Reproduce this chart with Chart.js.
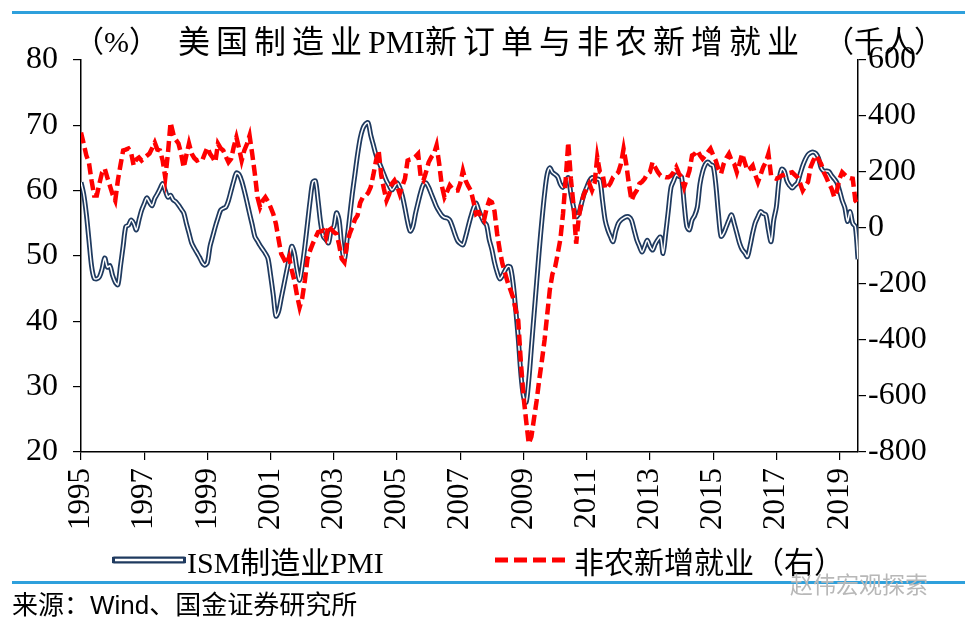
<!DOCTYPE html>
<html>
<head>
<meta charset="utf-8">
<script src="https://cdn.jsdelivr.net/npm/chart.js@4.4.0/dist/chart.umd.min.js"></script>
<style>
  body { margin: 0; width: 969px; height: 627px; background: #fff; position: relative; overflow: hidden; }
  #chart { position: absolute; left: 0; top: 0; }
  .rule { position: absolute; left: 12px; width: 953px; height: 3px; background: #2ea0dc; }
  .txt { position: absolute; white-space: nowrap; color: #000; line-height: 1;
         font-family: 'Liberation Serif', 'Noto Sans CJK SC', serif; }
  .tight { letter-spacing: 0; }
  #source { font-family: 'Liberation Sans', 'Noto Sans CJK SC', sans-serif; font-size: 26px; left: 12px; top: 592px; }
  #mark { font-family: 'Noto Sans CJK SC', sans-serif; font-size: 23px; color: #b8b8b8; left: 790px; top: 572px; }
</style>
</head>
<body>
<canvas id="chart" width="969" height="627"></canvas>
<div class="rule" style="top:11px"></div>
<div class="txt" style="left:74px; top:27px; font-size:30px">（%）</div>
<div class="txt" style="left:178px; top:26px; font-size:32px; letter-spacing:6px">美国制造业<span class="tight">PMI</span>新订单与非农新增就业</div>
<div class="txt" style="left:824px; top:27px; font-size:30px">（千人）</div>

<svg style="position:absolute; left:112px; top:553px" width="74" height="14">
  <line x1="2" y1="7" x2="72" y2="7" stroke="#1f3a5f" stroke-width="7" stroke-linecap="round"/>
  <line x1="3" y1="7" x2="71" y2="7" stroke="#ffffff" stroke-width="2.5"/>
</svg>
<div class="txt" style="left:187px; top:548px; font-size:30px">ISM制造业PMI</div>
<svg style="position:absolute; left:495px; top:553px" width="74" height="14">
  <line x1="0" y1="7" x2="72" y2="7" stroke="#ff0000" stroke-width="5" stroke-dasharray="13 6"/>
</svg>
<div class="txt" style="left:574px; top:548px; font-size:30px">非农新增就业（右）</div>

<div class="rule" style="top:581px"></div>
<div class="txt" id="source">来源：Wind、国金证券研究所</div>
<div class="txt" id="mark">赵伟宏观探索</div>

<script>
// monthly data, Jan 1995 - Aug 2019
const startYear = 1995;
const yearTicks = [1995, 1997, 1999, 2001, 2003, 2005, 2007, 2009, 2011, 2013, 2015, 2017, 2019];

// ISM new orders (left axis, %)
const ismNewOrders = [
  61.3, 59.5, 56.5, 52.5, 48.5, 46.6, 46.5, 46.8, 48.0, 49.7, 48.3, 48.5,
  47.0, 46.0, 45.6, 48.5, 51.5, 54.5, 54.7, 55.5, 55.0, 54.0, 55.5, 57.0,
  58.0, 58.9, 58.2, 57.7, 58.8, 59.5, 60.3, 61.1, 60.0, 59.0, 59.3, 58.6,
  58.3, 57.8, 57.2, 56.6, 55.0, 53.5, 52.0, 51.2, 50.5, 49.8, 49.0, 48.6,
  49.0, 51.5, 53.0, 54.5, 55.8, 57.0, 57.3, 57.5, 58.5, 60.0, 61.5, 62.7,
  62.5, 61.5, 60.0, 58.3, 56.5, 54.8, 53.0, 52.3, 51.6, 51.0, 50.4, 49.6,
  47.0, 44.0, 40.8, 41.5, 43.5, 45.5, 47.5, 49.5, 51.5, 50.5, 48.0, 46.3,
  48.5, 51.5, 55.0, 58.5, 61.3, 61.5, 58.5, 55.0, 53.0, 52.5, 52.0, 54.0,
  54.5, 56.6, 55.5, 51.5, 49.4, 52.5, 56.0, 59.5, 62.5, 65.5, 68.0, 69.5,
  70.2, 70.4, 68.5, 67.0, 65.5, 64.5, 63.5, 62.5, 61.5, 60.8, 60.1, 60.6,
  61.2, 60.5, 59.2, 57.3, 55.2, 53.8, 54.5, 56.5, 58.2, 59.8, 61.0, 61.2,
  60.5, 59.5, 58.5, 57.5, 56.8, 56.2, 55.9, 55.8, 55.5, 54.5, 53.3, 52.3,
  51.9, 51.7, 52.9, 54.5, 56.0, 57.3, 58.1, 57.0, 56.0, 55.2, 54.7, 52.5,
  51.0, 49.0, 47.5, 46.5, 47.0, 47.8, 48.4, 48.3, 46.0, 42.0, 37.5, 32.0,
  28.5, 27.6, 31.0, 36.0, 41.0, 46.0, 51.0, 55.5, 59.5, 62.5, 63.5, 62.8,
  62.5, 62.1, 61.0, 60.5, 61.2, 62.0, 59.5, 57.5, 56.0, 56.5, 58.0, 59.5,
  60.5, 61.5, 62.0, 61.8, 61.8, 61.6, 58.5, 55.5, 54.0, 53.0, 52.2, 53.8,
  55.0, 55.5, 55.8, 56.0, 56.0, 55.5, 54.0, 52.5, 51.5, 50.6, 51.5, 52.4,
  51.5, 50.9, 51.8, 52.5, 52.9, 50.4, 53.5, 57.0, 60.5, 61.5, 62.4, 62.2,
  62.1, 58.0, 54.5, 54.0, 55.5, 56.2, 57.5, 61.0, 62.9, 64.0, 64.4, 64.0,
  63.8, 61.0, 56.5, 53.0, 53.5, 54.5, 55.5, 56.3, 55.0, 53.5, 52.0, 51.0,
  50.5, 49.9, 51.5, 53.5, 55.1, 56.0, 56.8, 56.5, 56.3, 54.0, 52.2, 55.5,
  57.5, 61.5, 63.3, 63.0, 61.5, 60.8, 60.4, 60.8, 61.2, 62.5, 63.8, 64.8,
  65.5, 65.8, 65.9, 65.7, 65.0, 63.5, 63.0, 63.0, 62.9, 62.3, 61.8, 61.2,
  60.0, 58.5, 57.4, 55.3, 56.8, 55.0, 54.5, 49.5
];

// nonfarm payroll change (right axis, thousands)
const nonfarmPayrolls = [
  341, 302, 260, 234, 170, 116, 116, 159, 198, 212, 180, 150,
  120, 98, 170, 225, 277, 280, 284, 270, 223, 245, 252, 241,
  250, 258, 266, 285, 305, 280, 277, 241, 180, 266, 377, 337,
  315, 302, 266, 216, 260, 302, 266, 250, 241, 245, 241, 265,
  288, 265, 252, 235, 301, 285, 277, 255, 235, 247, 290, 324,
  285, 241, 277, 300, 330, 265, 194, 110, 74, 98, 110, 95,
  74, 50, 15, -40, -92, -110, -128, -104, -150, -187, -240, -283,
  -250, -187, -110, -80, -56, -35, -15, -12, -9, -33, 9, -5,
  -15, -21, -60, -110, -122, -56, -20, 3, 30, 45, 90, 110,
  115, 125, 146, 190, 240, 277, 187, 140, 98, 120, 158, 170,
  150, 122, 150, 176, 241, 245, 247, 255, 265, 181, 170, 200,
  235, 253, 265, 295, 229, 150, 110, 130, 152, 140, 134, 134,
  160, 205, 170, 150, 134, 95, 50, 56, 40, 27, 70, 98,
  92, 60, -21, -80, -128, -160, -194, -220, -247, -290, -330, -480,
  -600, -688, -770, -745, -680, -616, -540, -473, -400, -310, -220, -164,
  -140, -92, -40, 50, 170, 306, 175, 80, -56, 39, 90, 122,
  140, 158, 134, 160, 253, 200, 194, 140, 146, 160, 181, 190,
  199, 229, 283, 229, 158, 98, 120, 134, 158, 165, 176, 194,
  200, 235, 217, 200, 187, 184, 181, 181, 187, 200, 217, 195,
  181, 146, 175, 205, 259, 265, 277, 260, 247, 258, 271, 283,
  260, 241, 210, 194, 229, 250, 265, 241, 229, 199, 230, 265,
  235, 205, 212, 223, 190, 164, 190, 217, 235, 265, 187, 180,
  176, 180, 187, 190, 194, 197, 199, 190, 181, 160, 134, 150,
  164, 217, 240, 259, 245, 229, 199, 180, 158, 140, 110, 134,
  176, 199, 190, 181, 178, 176, 98, 85
];

const navy = '#1f3a5f';
const yFont = { family: "'Liberation Serif', 'Times New Roman', serif", size: 32 };
const xFont = { family: "'Liberation Serif', 'Times New Roman', serif", size: 31 };
const toPoints = arr => arr.map((v, i) => ({ x: i, y: v }));

new Chart(document.getElementById('chart'), {
  type: 'line',
  data: {
    datasets: [
      { label: 'ISM制造业PMI', data: toPoints(ismNewOrders), yAxisID: 'yL',
        borderColor: navy, borderWidth: 5, pointRadius: 0, tension: 0.3, order: 3 },
      { label: 'ISM制造业PMI-inner', data: toPoints(ismNewOrders), yAxisID: 'yL',
        borderColor: '#ffffff', borderWidth: 1.5, pointRadius: 0, tension: 0.3, order: 2 },
      { label: '非农新增就业（右）', data: toPoints(nonfarmPayrolls), yAxisID: 'yR',
        borderColor: '#ff0000', borderWidth: 4.5, borderDash: [11, 5], pointRadius: 0, tension: 0, order: 1 }
    ]
  },
  options: {
    responsive: false,
    animation: false,
    layout: { padding: { top: 60, left: 0, right: 0, bottom: 75 } },
    plugins: { legend: { display: false }, tooltip: { enabled: false } },
    scales: {
      x: {
        type: 'linear', min: 0, max: ismNewOrders.length - 1,
        afterBuildTicks: s => { s.ticks = yearTicks.map(y => ({ value: (y - startYear) * 12 })); },
        ticks: { callback: v => String(startYear + Math.round(v / 12)), autoSkip: false,
                 minRotation: 90, maxRotation: 90, color: '#000', font: xFont, padding: 8 },
        grid: { drawOnChartArea: false, tickLength: 8, color: '#000', lineWidth: 1.2 },
        border: { color: '#000', width: 1.5 },
        afterFit: s => { s.height = 100; }
      },
      yL: {
        position: 'left', min: 20, max: 80,
        ticks: { stepSize: 10, color: '#000', font: yFont, padding: 15 },
        grid: { drawOnChartArea: false, tickLength: 8, color: '#000', lineWidth: 1.2 },
        border: { color: '#000', width: 1.5 },
        afterFit: s => { s.width = 81; }
      },
      yR: {
        position: 'right', min: -800, max: 600,
        ticks: { stepSize: 200, color: '#000', font: yFont, padding: 2 },
        grid: { drawOnChartArea: false, tickLength: 8, color: '#000', lineWidth: 1.2 },
        border: { color: '#000', width: 1.5 },
        afterFit: s => { s.width = 111; }
      }
    }
  }
});
</script>
</body>
</html>
